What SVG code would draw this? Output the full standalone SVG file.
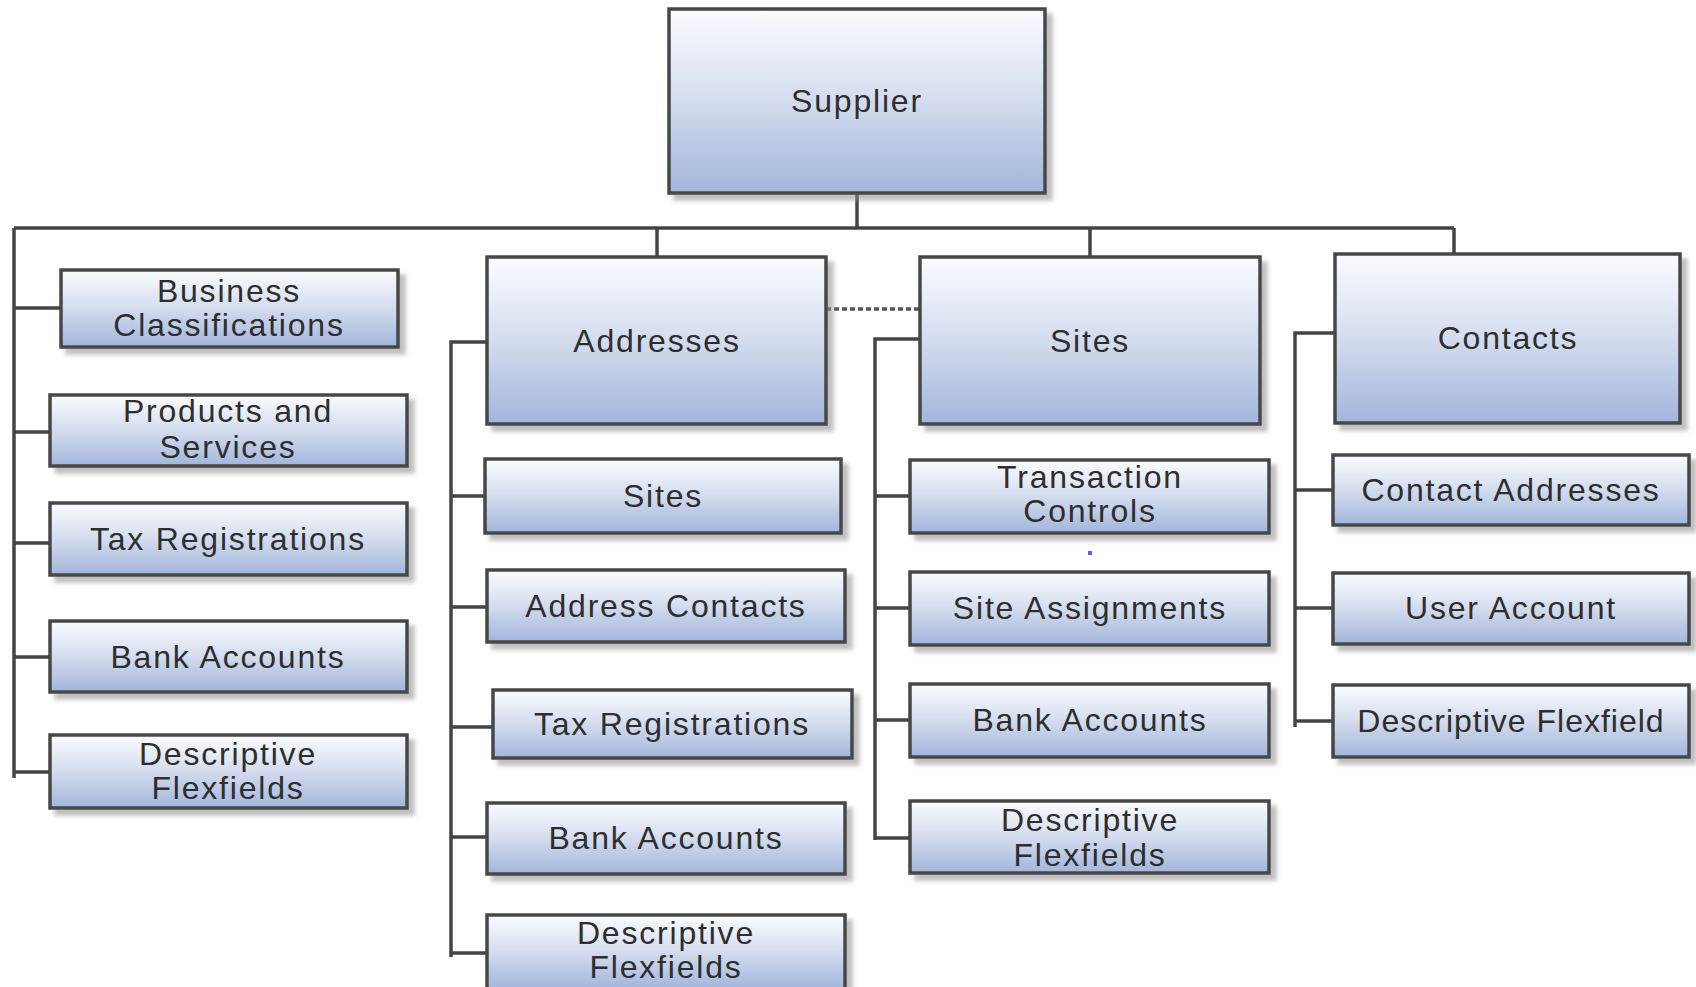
<svg xmlns="http://www.w3.org/2000/svg" width="1696" height="987" viewBox="0 0 1696 987">
<defs>
<linearGradient id="g" x1="0" y1="0" x2="0" y2="1">
<stop offset="0" stop-color="#fbfcfe"/>
<stop offset="0.5" stop-color="#d3dcee"/>
<stop offset="1" stop-color="#a2b5db"/>
</linearGradient>
<filter id="sh" x="-5%" y="-5%" width="115%" height="125%">
<feDropShadow dx="6" dy="6" stdDeviation="2" flood-color="#8a8a8a" flood-opacity="0.55"/>
</filter>
</defs>
<style>
.box{fill:url(#g);stroke:#474747;stroke-width:3.5;filter:url(#sh)}
.t{font-family:"Liberation Sans",Arial,sans-serif;font-size:32px;fill:#2e2e2e;text-anchor:middle;letter-spacing:1.8px}
.c{fill:none;stroke:#444;stroke-width:3.5}
.d{fill:none;stroke:#555;stroke-width:3.5;stroke-dasharray:5 3}
</style>
<rect width="1696" height="987" fill="#fff"/>
<g id="connectors">
<path class="c" d="M857 193V228M14 228H1454M657 228V257M1090 228V257M1454 228V254M14 228V778"/>
<path class="c" d="M14 308H61M14 432H50M14 543H50M14 657H50M14 772H50"/>
<path class="c" d="M487 342H451V957M451 496H485M451 607H487M451 727H493M451 837H487M451 953H487"/>
<path class="c" d="M920 339H875V840M875 496H910M875 608H910M875 720H910M875 838H910"/>
<path class="c" d="M1335 333H1295V727M1295 490H1333M1295 608H1333M1295 721H1333"/>
<path class="d" d="M826 309H920"/>
</g>
<g id="supplier"><rect class="box" x="669" y="9" width="376" height="184"/><text class="t" x="857" y="112">Supplier</text></g>
<g id="addresses"><rect class="box" x="487" y="257" width="339" height="167"/><text class="t" x="657" y="352">Addresses</text></g>
<g id="sites"><rect class="box" x="920" y="257" width="340" height="167"/><text class="t" x="1090" y="352">Sites</text></g>
<g id="contacts"><rect class="box" x="1335" y="254" width="345" height="169"/><text class="t" x="1508" y="349">Contacts</text></g>

<g id="business-classifications"><rect class="box" x="61" y="270" width="337" height="77"/><text class="t" x="229" y="302">Business</text><text class="t" x="229" y="336">Classifications</text></g>
<g id="products-services"><rect class="box" x="50" y="395" width="357" height="71"/><text class="t" x="228" y="422">Products and</text><text class="t" x="228" y="458">Services</text></g>
<g id="tax-registrations"><rect class="box" x="50" y="503" width="357" height="72"/><text class="t" x="228" y="550">Tax Registrations</text></g>
<g id="bank-accounts"><rect class="box" x="50" y="621" width="357" height="71"/><text class="t" x="228" y="668">Bank Accounts</text></g>
<g id="descriptive-flexfields"><rect class="box" x="50" y="735" width="357" height="73"/><text class="t" x="228" y="765">Descriptive</text><text class="t" x="228" y="799">Flexfields</text></g>

<g id="addr-sites"><rect class="box" x="485" y="459" width="356" height="74"/><text class="t" x="663" y="507">Sites</text></g>
<g id="address-contacts"><rect class="box" x="487" y="570" width="358" height="72"/><text class="t" x="666" y="617">Address Contacts</text></g>
<g id="addr-tax-registrations"><rect class="box" x="493" y="690" width="359" height="68"/><text class="t" x="672" y="735">Tax Registrations</text></g>
<g id="addr-bank-accounts"><rect class="box" x="487" y="803" width="358" height="71"/><text class="t" x="666" y="849">Bank Accounts</text></g>
<g id="addr-descriptive-flexfields"><rect class="box" x="487" y="915" width="358" height="74"/><text class="t" x="666" y="944">Descriptive</text><text class="t" x="666" y="978">Flexfields</text></g>

<g id="transaction-controls"><rect class="box" x="910" y="460" width="359" height="73"/><text class="t" x="1090" y="488">Transaction</text><text class="t" x="1090" y="522">Controls</text></g>
<g id="site-assignments"><rect class="box" x="910" y="572" width="359" height="73"/><text class="t" x="1090" y="619">Site Assignments</text></g>
<g id="site-bank-accounts"><rect class="box" x="910" y="684" width="359" height="73"/><text class="t" x="1090" y="731">Bank Accounts</text></g>
<g id="site-descriptive-flexfields"><rect class="box" x="910" y="801" width="359" height="72"/><text class="t" x="1090" y="831">Descriptive</text><text class="t" x="1090" y="866">Flexfields</text></g>
<rect x="1088" y="551" width="4" height="4" fill="#5a5aff"/>

<g id="contact-addresses"><rect class="box" x="1333" y="455" width="356" height="70"/><text class="t" x="1511" y="501">Contact Addresses</text></g>
<g id="user-account"><rect class="box" x="1333" y="573" width="356" height="71"/><text class="t" x="1511" y="619">User Account</text></g>
<g id="contact-descriptive-flexfield"><rect class="box" x="1333" y="685" width="356" height="72"/><text class="t" x="1511" y="732" style="letter-spacing:1px">Descriptive Flexfield</text></g>
</svg>
